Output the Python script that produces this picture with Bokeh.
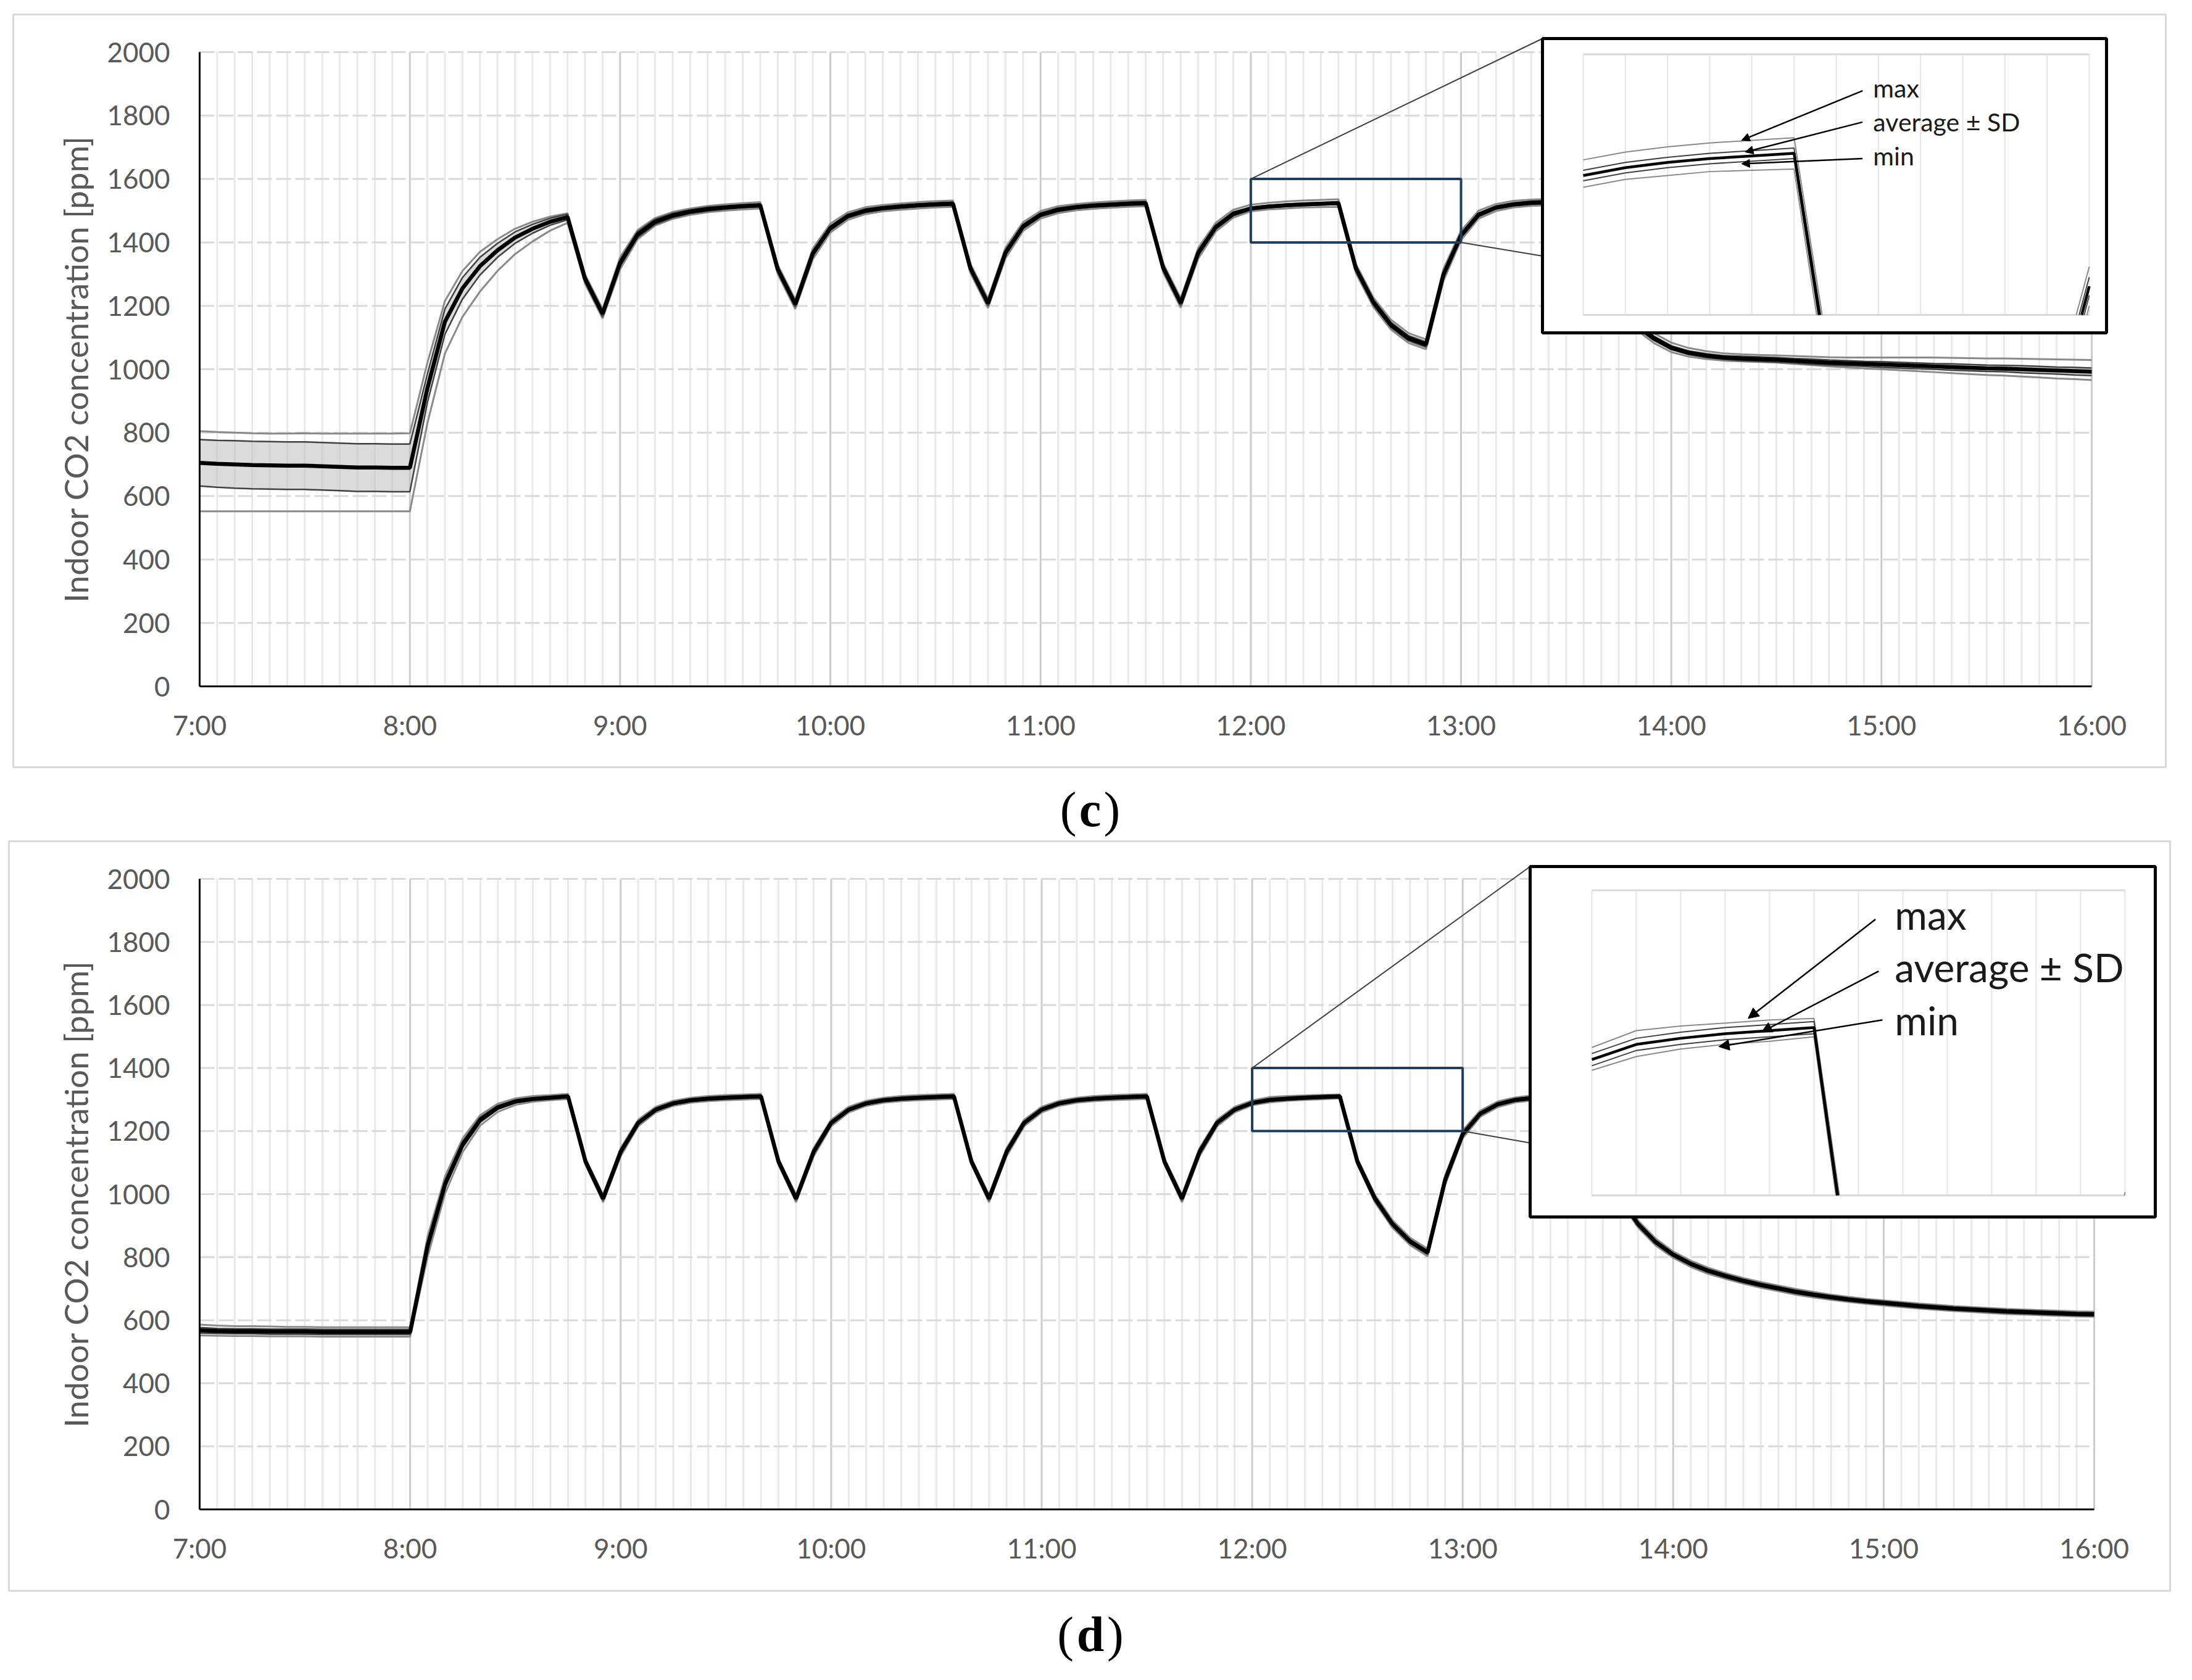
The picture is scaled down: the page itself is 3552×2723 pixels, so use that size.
from bokeh.plotting import figure
from bokeh.models import (Range1d, FixedTicker, CustomJSTickFormatter, BoxAnnotation,
                          Label, Arrow, NormalHead, ColumnDataSource)
from bokeh.layouts import column
from bokeh.embed import file_html
from bokeh.resources import INLINE

# ---------------- data ----------------
minutes = list(range(420, 961, 5))          # 7:00 ... 16:00, every 5 min
hours = [m / 60 for m in minutes]
hour_ticks = [7, 8, 9, 10, 11, 12, 13, 14, 15, 16]
ppm_ticks = [0, 200, 400, 600, 800, 1000, 1200, 1400, 1600, 1800, 2000]

c_avg = [705, 702, 700, 698, 697, 696, 696, 694, 692, 690, 690, 689, 689,
         940, 1150, 1255, 1325, 1375, 1415, 1443, 1465, 1480,
         1285, 1175,
         1335, 1425, 1465, 1485, 1497, 1505, 1510, 1514, 1517,
         1315, 1205,
         1365, 1445, 1483, 1500, 1508, 1513, 1517, 1520, 1522,
         1318, 1208,
         1368, 1450, 1487, 1503, 1511, 1516, 1519, 1522, 1524,
         1320, 1209,
         1367, 1448, 1490, 1507, 1513, 1517, 1520, 1522, 1524,
         1318, 1211, 1140, 1098, 1078,
         1299, 1422, 1487, 1510, 1520, 1525, 1527, 1528, 1529,
         1320, 1210, 1140, 1098, 1068,
         1052, 1043, 1037, 1034, 1032, 1030, 1027, 1024, 1021, 1019, 1017, 1015,
         1013, 1011, 1009, 1007, 1005, 1003, 1002, 1000, 998, 996, 994, 992]
c_sd = [73, 74, 75, 75, 75, 75, 75, 75, 75, 75, 75, 75, 75,
        45, 40, 34, 28, 22, 18, 14, 11, 9,
        9, 9,
        10, 9, 8, 7, 6, 6, 5, 5, 5,
        7, 8,
        8, 7, 6, 6, 5, 5, 5, 5, 5,
        7, 8,
        8, 7, 6, 6, 5, 5, 5, 5, 5,
        7, 8,
        8, 7, 6, 4, 4, 4, 4, 4, 4,
        7, 8, 8, 8, 8,
        9, 7, 6, 5, 5, 5, 5, 5, 5,
        7, 8, 8, 7, 6,
        6, 6, 6, 7, 7, 7, 7, 8, 8, 8, 8, 9, 9, 9, 9, 10, 10, 10, 10, 11, 11, 11, 12, 12]
c_max_up = [100, 100, 100, 100, 100, 101, 102, 103, 105, 107, 107, 108, 109,
            80, 65, 55, 45, 35, 28, 22, 16, 12,
            14, 15,
            18, 14, 12, 11, 10, 10, 10, 10, 10,
            14, 15,
            16, 14, 12, 11, 10, 10, 10, 10, 10,
            14, 15,
            16, 14, 12, 11, 10, 10, 10, 10, 10,
            14, 15,
            16, 14, 13, 12, 12, 12, 12, 12, 12,
            14, 15, 16, 16, 16,
            18, 15, 13, 11, 11, 10, 10, 10, 10,
            14, 15, 16, 16, 16,
            15, 14, 13, 13, 13, 14, 15, 16, 17, 18, 20, 22, 24, 26, 28, 29, 30, 31, 32, 33, 34, 35, 36, 37]
c_min_dn = [153, 150, 148, 146, 145, 144, 144, 142, 140, 138, 138, 137, 137,
            110, 100, 90, 80, 65, 52, 40, 28, 18,
            15, 15,
            20, 15, 12, 11, 10, 10, 10, 10, 10,
            15, 15,
            18, 14, 12, 11, 10, 10, 10, 10, 10,
            15, 15,
            18, 14, 12, 11, 10, 10, 10, 10, 10,
            15, 15,
            18, 14, 12, 9, 9, 10, 10, 11, 12,
            15, 15, 15, 15, 15,
            20, 15, 12, 11, 10, 10, 10, 10, 10,
            15, 15, 15, 15, 14,
            12, 11, 10, 9, 9, 9, 10, 11, 12, 13, 14, 15, 16, 17, 18, 19, 20, 21, 22, 23, 24, 25, 25, 26]

d_avg = [568, 566, 565, 565, 564, 564, 564, 563, 563, 563, 563, 563, 563,
         837, 1033, 1158, 1236, 1275, 1294, 1302, 1306, 1310,
         1103, 986,
         1134, 1226, 1268, 1288, 1298, 1303, 1306, 1308, 1310,
         1103, 986,
         1134, 1226, 1268, 1288, 1298, 1303, 1306, 1308, 1310,
         1103, 986,
         1134, 1226, 1268, 1288, 1298, 1303, 1306, 1308, 1310,
         1103, 986,
         1134, 1226, 1268, 1289, 1299, 1303, 1306, 1308, 1310,
         1103, 986, 905, 850, 815,
         1045, 1190, 1255, 1285, 1299, 1305, 1308, 1309, 1310,
         1103, 986, 905, 848, 808,
         779, 757, 740, 725, 712, 701, 690, 681, 673, 666, 660, 655,
         650, 645, 641, 637, 634, 631, 628, 626, 624, 622, 620, 619]
d_sd = [9, 8, 8, 8, 8, 8, 8, 8, 8, 8, 8, 8, 8,
        15, 12, 10, 8, 6, 5, 4, 4, 4,
        5, 6,
        6, 5, 4, 4, 4, 4, 4, 4, 4,
        5, 6,
        6, 5, 4, 4, 4, 4, 4, 4, 4,
        5, 6,
        6, 5, 4, 4, 4, 4, 4, 4, 4,
        5, 6,
        6, 5, 4, 4, 4, 4, 4, 4, 4,
        5, 6, 6, 6, 6,
        6, 5, 4, 4, 4, 4, 4, 4, 4,
        5, 5, 5, 5, 5,
        5, 5, 5, 5, 5, 5, 5, 5, 5, 5, 5, 5, 5, 5, 5, 5, 5, 5, 5, 5, 5, 5, 5, 5]
d_max_up = [18, 17, 16, 16, 16, 15, 15, 15, 15, 15, 15, 15, 15,
            30, 25, 20, 15, 12, 10, 9, 8, 8,
            10, 12,
            12, 10, 9, 8, 8, 8, 8, 8, 8,
            10, 12,
            12, 10, 9, 8, 8, 8, 8, 8, 8,
            10, 12,
            12, 10, 9, 8, 8, 8, 8, 8, 8,
            10, 12,
            12, 10, 9, 8, 9, 8, 7, 7, 6,
            10, 12, 12, 12, 12,
            14, 12, 10, 9, 8, 8, 8, 8, 8,
            10, 11, 11, 11, 10,
            10, 10, 9, 9, 9, 9, 9, 9, 8, 8, 8, 8, 8, 8, 8, 8, 8, 8, 8, 8, 8, 8, 8, 8]
d_min_dn = [16, 15, 15, 15, 15, 15, 15, 15, 15, 15, 15, 15, 15,
            35, 30, 24, 18, 14, 11, 9, 8, 8,
            10, 12,
            14, 11, 9, 8, 8, 8, 8, 8, 8,
            10, 12,
            14, 11, 9, 8, 8, 8, 8, 8, 8,
            10, 12,
            14, 11, 9, 8, 8, 8, 8, 8, 8,
            10, 12,
            14, 11, 9, 7, 8, 7, 7, 7, 6,
            10, 12, 12, 12, 12,
            16, 13, 10, 9, 8, 8, 8, 8, 8,
            10, 11, 11, 11, 10,
            10, 10, 9, 9, 9, 9, 9, 9, 8, 8, 8, 8, 8, 8, 8, 8, 8, 8, 8, 8, 8, 8, 8, 8]

for arr in (c_avg, c_sd, c_max_up, c_min_dn, d_avg, d_sd, d_max_up, d_min_dn):
    assert len(arr) == len(hours), len(arr)

note_texts = ["max", "average \u00b1 SD", "min"]
# inset annotation positions (inset data coordinates)
c_note_x = 12.573
c_note_y = [1574, 1548, 1522]
c_arrow_tail = [(12.552, 1572), (12.552, 1548), (12.552, 1520)]
c_arrow_head = [(12.313, 1534), (12.320, 1525), (12.313, 1516)]
d_note_x = 12.568
d_note_y = [1384, 1349.5, 1314.7]
d_arrow_tail = [(12.532, 1381), (12.538, 1347), (12.545, 1315)]
d_arrow_head = [(12.293, 1316), (12.318, 1307), (12.238, 1297.5)]

# ---------------- layout (reference pixel coordinates) ----------------
PAGE_W = 3536
PX_L, PX_R = 8, 8 + PAGE_W
FONT = "Lato"

geom_c = dict(top_ref=8, fig_h=1360, axes=(331, 3397, 1120, 92),
              border=(29, 3517, 31, 1251), box=(2507, 3421, 70, 547),
              inner=(2573, 3393, 95.5, 518), window=(12, 13, 1400, 1600),
              connect=[("tl", 2507, 70), ("br", 2507, 422.5)],
              caption=(1774, 1319), paren_dx=22, letter="c", note_size="41px", head=13)
geom_d = dict(top_ref=1368, fig_h=1347, axes=(331, 3401, 2454, 1432),
              border=(22, 3524, 1371, 2586), box=(2487, 3500, 1412, 1980),
              inner=(2587, 3451, 1450.6, 1945), window=(12, 13, 1200, 1400),
              connect=[("tl", 2487, 1412), ("br", 2487, 1860)],
              caption=(1774.5, 2656), paren_dx=27, letter="d", note_size="64px", head=17)


def lin_range(d0, d1, p0, p1, q0, q1):
    """Range whose start sits at pixel q0 and end at pixel q1, given d0@p0 and d1@p1."""
    k = (d1 - d0) / (p1 - p0)
    return Range1d(d0 + (q0 - p0) * k, d0 + (q1 - p0) * k)


def clip_segment(x0, y0, x1, y1, xmin, xmax, ymin, ymax):
    dx, dy = x1 - x0, y1 - y0
    u0, u1 = 0.0, 1.0
    for pi, qi in ((-dx, x0 - xmin), (dx, xmax - x0), (-dy, y0 - ymin), (dy, ymax - y0)):
        if pi == 0:
            if qi < 0:
                return None
        else:
            r = qi / pi
            if pi < 0:
                if r > u1:
                    return None
                u0 = max(u0, r)
            else:
                if r < u0:
                    return None
                u1 = min(u1, r)
    return (x0 + u0 * dx, y0 + u0 * dy, x0 + u1 * dx, y0 + u1 * dy)


def clip_polyline(xs, ys, win):
    xmin, xmax, ymin, ymax = win
    out_x, out_y, cx, cy = [], [], [], []
    for k in range(len(xs) - 1):
        s = clip_segment(xs[k], ys[k], xs[k + 1], ys[k + 1], xmin, xmax, ymin, ymax)
        if s is None:
            if len(cx) > 1:
                out_x.append(cx); out_y.append(cy)
            cx, cy = [], []
            continue
        ax, ay, bx, by = s
        if cx and abs(cx[-1] - ax) < 1e-9 and abs(cy[-1] - ay) < 1e-9:
            cx.append(bx); cy.append(by)
        else:
            if len(cx) > 1:
                out_x.append(cx); out_y.append(cy)
            cx, cy = [ax, bx], [ay, by]
    if len(cx) > 1:
        out_x.append(cx); out_y.append(cy)
    return out_x, out_y


def build(g, avg, sd, mx_up, mn_dn, note_x, note_y, tails, heads):
    ft = g["top_ref"]
    H = g["fig_h"]
    fb = ft + H
    ax7, ax16, ay0, ay2000 = g["axes"]
    p = figure(width=PAGE_W, height=H, output_backend="svg", toolbar_location=None,
               x_range=lin_range(7, 16, ax7, ax16, PX_L, PX_R),
               y_range=lin_range(0, 2000, ay0, ay2000, fb, ft),
               min_border=0, min_border_left=0, min_border_right=0,
               min_border_top=0, min_border_bottom=0,
               background_fill_color="white", border_fill_color="white")
    p.outline_line_color = None
    p.xgrid.visible = False
    p.ygrid.visible = False

    in_l, in_r, in_t, in_b = g["inner"]
    w0, w1, y0, y1 = g["window"]
    p.extra_x_ranges = {"px": Range1d(PX_L, PX_R),
                        "ins": lin_range(w0, w1, in_l, in_r, PX_L, PX_R)}
    p.extra_y_ranges = {"px": Range1d(fb, ft),
                        "ins": lin_range(y0, y1, in_b, in_t, fb, ft)}

    def mx2px(x):
        return ax7 + (x - 7) / 9 * (ax16 - ax7)

    def my2px(y):
        return ay0 + y / 2000 * (ay2000 - ay0)

    # axes (drawn inside the frame at fixed locations)
    p.xaxis.ticker = FixedTicker(ticks=hour_ticks)
    p.yaxis.ticker = FixedTicker(ticks=ppm_ticks)
    p.xaxis.formatter = CustomJSTickFormatter(code="return Math.round(tick) + ':00'")
    p.xaxis.bounds = (7, 16)
    p.yaxis.bounds = (0, 2000)
    p.xaxis.fixed_location = 0
    p.yaxis.fixed_location = 7
    for ax in (p.xaxis, p.yaxis):
        ax.axis_line_color = "black"
        ax.axis_line_width = 3
        ax.major_tick_line_color = None
        ax.minor_tick_line_color = None
        ax.major_tick_out = 0
        ax.major_tick_in = 0
        ax.major_label_text_font = FONT
        ax.major_label_text_font_size = "44px"
        ax.major_label_text_color = "#595959"
    p.xaxis.major_label_standoff = 36
    p.yaxis.major_label_standoff = 48
    p.yaxis.axis_label = "Indoor CO2 concentration [ppm]"
    p.yaxis.axis_label_text_font = FONT
    p.yaxis.axis_label_text_font_size = "53px"
    p.yaxis.axis_label_text_font_style = "normal"
    p.yaxis.axis_label_text_color = "#595959"
    p.yaxis.axis_label_standoff = 16

    # grid lines, from the tick lists
    minor_x = [h for h, m in zip(hours, minutes) if m % 60 != 0]
    p.segment(x0=minor_x, y0=[0] * len(minor_x), x1=minor_x, y1=[2000] * len(minor_x),
              line_color="#e9e9e9", line_width=3, level="underlay")
    major_x = hour_ticks[1:]
    p.segment(x0=major_x, y0=[0] * len(major_x), x1=major_x, y1=[2000] * len(major_x),
              line_color="#cccccc", line_width=3, level="underlay")
    gy = ppm_ticks[1:]
    p.segment(x0=[7] * len(gy), y0=gy, x1=[16] * len(gy), y1=gy,
              line_color="#d9d9d9", line_width=3, line_dash="24 7", level="underlay")

    # outer chart border
    bl, br, bt, bb = g["border"]
    p.add_layout(BoxAnnotation(left=bl, right=br, top=bt, bottom=bb,
                               x_range_name="px", y_range_name="px",
                               fill_alpha=0, line_color="#d9d9d9", line_alpha=1.0,
                               line_width=3, level="underlay"))

    hi = [a + s for a, s in zip(avg, sd)]
    lo = [a - s for a, s in zip(avg, sd)]
    mx = [a + s for a, s in zip(avg, mx_up)]
    mn = [a - s for a, s in zip(avg, mn_dn)]
    src = ColumnDataSource(dict(t=hours, avg=avg, hi=hi, lo=lo, mx=mx, mn=mn))
    p.varea(x="t", y1="lo", y2="hi", source=src, fill_color="#bdbdbd", fill_alpha=0.55)
    p.line("t", "mx", source=src, line_color="#8a8a8a", line_width=3)
    p.line("t", "mn", source=src, line_color="#8a8a8a", line_width=3)
    p.line("t", "hi", source=src, line_color="#404040", line_width=2.5)
    p.line("t", "lo", source=src, line_color="#404040", line_width=2.5)
    p.line("t", "avg", source=src, line_color="black", line_width=6.5)

    # zoom rectangle on the main chart
    p.quad(left=[w0], right=[w1], bottom=[y0], top=[y1], fill_color=None,
           line_color="#203e5f", line_width=4)

    # connectors from the zoom rectangle to the inset
    corners = {"tl": (w0, y1), "br": (w1, y0)}
    cx0, cy0, cx1, cy1 = [], [], [], []
    for key, px_x, px_y in g["connect"]:
        cxm, cym = corners[key]
        cx0.append(mx2px(cxm)); cy0.append(my2px(cym))
        cx1.append(px_x); cy1.append(px_y)
    p.segment(x0=cx0, y0=cy0, x1=cx1, y1=cy1, x_range_name="px", y_range_name="px",
              line_color="#404040", line_width=2)

    # inset box
    xl, xr, xtp, xbt = g["box"]
    p.add_layout(BoxAnnotation(left=xl, right=xr, top=xtp, bottom=xbt,
                               x_range_name="px", y_range_name="px",
                               fill_color="white", fill_alpha=1.0,
                               line_color="black", line_alpha=1.0, line_width=5,
                               level="annotation"))

    # inset grid
    vx = [h for h in hours if w0 - 1e-9 <= h <= w1 + 1e-9]
    p.segment(x0=vx, y0=[y0] * len(vx), x1=vx, y1=[y1] * len(vx),
              x_range_name="ins", y_range_name="ins",
              line_color="#e6e6e6", line_width=2, level="overlay")
    p.segment(x0=[w0, w0], y0=[y0, y1], x1=[w1, w1], y1=[y0, y1],
              x_range_name="ins", y_range_name="ins",
              line_color="#d9d9d9", line_width=3, level="overlay")

    # inset curves (same series, clipped to the inset window)
    win = (w0, w1, y0, y1)
    for series, color, width in ((mx, "#8a8a8a", 2), (mn, "#8a8a8a", 2),
                                 (hi, "#404040", 2), (lo, "#404040", 2),
                                 (avg, "black", 4.5)):
        xs, ys = clip_polyline(hours, series, win)
        if xs:
            p.multi_line(xs=xs, ys=ys, line_color=color, line_width=width,
                         x_range_name="ins", y_range_name="ins", level="overlay")

    # inset annotations
    for txt, ty in zip(note_texts, note_y):
        p.add_layout(Label(x=note_x, y=ty, text=txt, x_range_name="ins", y_range_name="ins",
                           text_font=FONT, text_font_size=g["note_size"],
                           text_baseline="middle", text_align="left",
                           text_color="#1a1a1a", level="overlay"))
    for (tx, ty), (hx, hy) in zip(tails, heads):
        p.add_layout(Arrow(end=NormalHead(size=g["head"], fill_color="black",
                                          line_color="black", line_width=1),
                           x_start=tx, y_start=ty, x_end=hx, y_end=hy,
                           x_range_name="ins", y_range_name="ins",
                           line_color="black", line_width=2.5, level="overlay"))

    # caption "(c)" / "(d)"
    cx, cy = g["caption"]
    dxp = g["paren_dx"]
    for txt, dx, align, style in (("(", -dxp, "right", "normal"),
                                  (g["letter"], 0, "center", "bold"),
                                  (")", dxp, "left", "normal")):
        p.add_layout(Label(x=cx + dx, y=cy, text=txt, x_range_name="px", y_range_name="px",
                           text_font="Liberation Serif", text_font_size="80px",
                           text_font_style=style, text_align=align,
                           text_baseline="middle", text_color="black"))
    return p


fig_c = build(geom_c, c_avg, c_sd, c_max_up, c_min_dn, c_note_x, c_note_y,
              c_arrow_tail, c_arrow_head)
fig_d = build(geom_d, d_avg, d_sd, d_max_up, d_min_dn, d_note_x, d_note_y,
              d_arrow_tail, d_arrow_head)

layout = column(fig_c, fig_d)
open("out.html", "w").write(file_html(layout, INLINE))
